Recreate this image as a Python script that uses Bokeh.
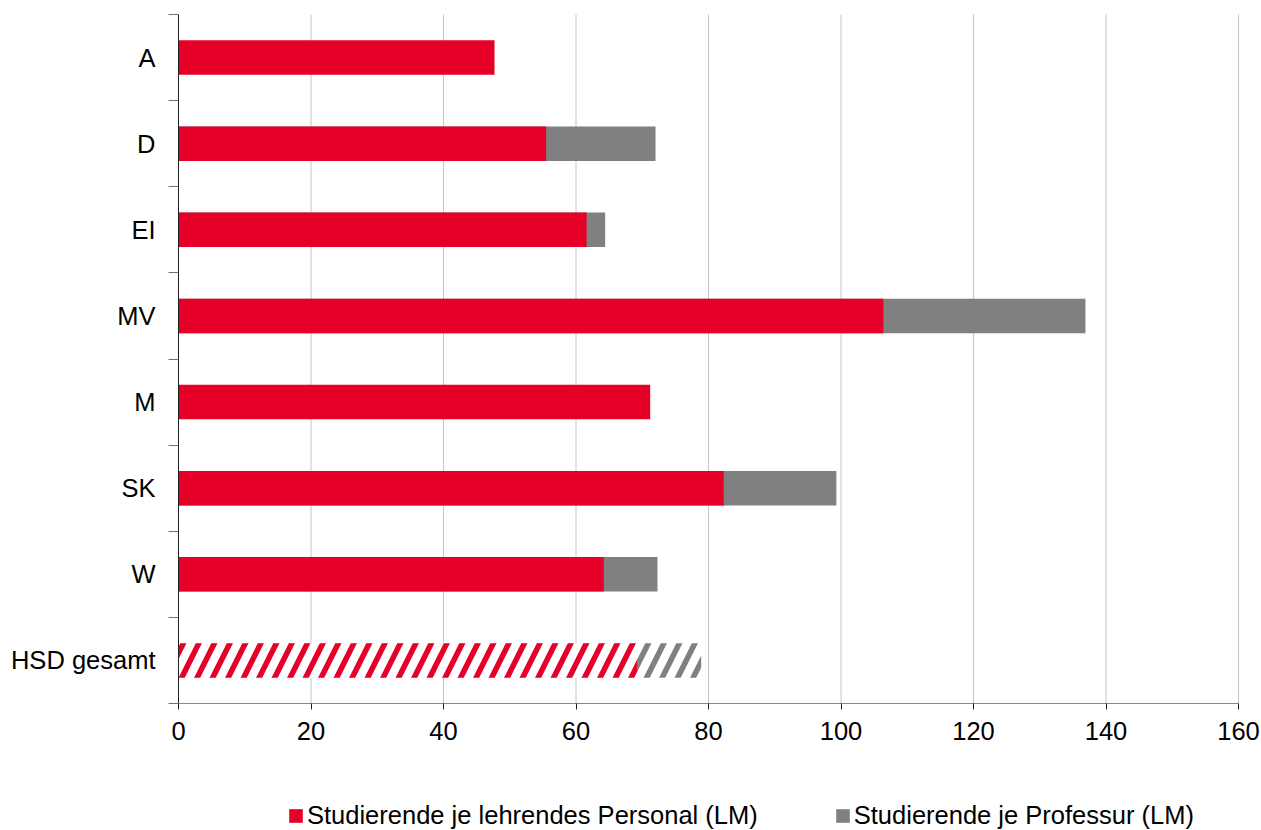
from bokeh.plotting import figure
from bokeh.models import FixedTicker, Legend, LegendItem, ColumnDataSource
from bokeh.embed import file_html
from bokeh.resources import INLINE
import numpy as np

categories = ["A", "D", "EI", "MV", "M", "SK", "W", "HSD gesamt"]
personal = [47.7, 55.5, 61.6, 106.4, 71.2, 82.3, 64.2, 69.3]
professur = [None, 72.0, 64.4, 136.9, None, 99.3, 72.3, 78.9]
x_ticks = [0, 20, 40, 60, 80, 100, 120, 140, 160]
series_names = ["Studierende je lehrendes Personal (LM)", "Studierende je Professur (LM)"]

RED = "#E60028"
GRAY = "#808080"
FONT = "Liberation Sans"
FS = "25.5px"

n = len(categories)
ypos = [n - 1 - i for i in range(n)]
prof = [np.nan if v is None else v for v in professur]

solid_idx = [i for i in range(n) if categories[i] != "HSD gesamt"]
hatch_idx = [i for i in range(n) if categories[i] == "HSD gesamt"]

# page layout in pixels: the whole figure is the frame; the plot area is a sub-rectangle
W, H = 1260, 830
PL, PR, PT, PB = 178, 1238, 14, 703          # plot-area edges in page pixels
X0, X1 = 0, 160
Y0, Y1 = -0.5, n - 0.5
xs = (X1 - X0) / (PR - PL)
ys = (Y1 - Y0) / (PB - PT)
x_range = (X0 - PL * xs, X1 + (W - PR) * xs)
y_range = (Y0 - (H - PB) * ys, Y1 + PT * ys)

def src(idx, vals):
    return ColumnDataSource(dict(y=[ypos[i] for i in idx], right=[vals[i] for i in idx]))

p = figure(frame_width=W, frame_height=H, output_backend="svg", toolbar_location=None,
           x_range=x_range, y_range=y_range,
           min_border_left=0, min_border_right=0, min_border_top=0, min_border_bottom=0)
p.outline_line_color = None
p.background_fill_color = "white"
p.border_fill_color = "white"
p.xgrid.grid_line_color = None
p.ygrid.grid_line_color = None

# vertical grid lines limited to the plot area
p.segment(x0=x_ticks, x1=x_ticks, y0=[Y0] * len(x_ticks), y1=[Y1] * len(x_ticks),
          line_color="#c6c6c6", line_width=1)

BH = 0.4
r_gray = p.hbar(y="y", right="right", left=0, height=BH, source=src(solid_idx, prof),
                fill_color=GRAY, line_color=None)
r_red = p.hbar(y="y", right="right", left=0, height=BH, source=src(solid_idx, personal),
               fill_color=RED, line_color=None)
p.hbar(y="y", right="right", left=0, height=BH, source=src(hatch_idx, prof),
       fill_color="white", line_color=None, hatch_pattern="/", hatch_color=GRAY,
       hatch_scale=31, hatch_weight=5.5)
p.hbar(y="y", right="right", left=0, height=BH, source=src(hatch_idx, personal),
       fill_color="white", line_color=None, hatch_pattern="/", hatch_color=RED,
       hatch_scale=31, hatch_weight=5.5)

# x axis at the bottom of the plot area
p.xaxis.fixed_location = Y0
p.xaxis.bounds = (X0, X1)
p.xaxis.ticker = FixedTicker(ticks=x_ticks)
p.xaxis.axis_line_color = "#888888"
p.xaxis.major_tick_line_color = "#202020"
p.xaxis.major_tick_out = 6
p.xaxis.major_tick_in = 0
p.xaxis.minor_tick_line_color = None
p.xaxis.major_label_standoff = 12
p.xaxis.major_label_text_font = FONT
p.xaxis.major_label_text_font_size = FS
p.xaxis.major_label_text_color = "#000000"

# y axis at x = 0
p.yaxis.fixed_location = X0
p.yaxis.bounds = (Y0, Y1)
p.yaxis.ticker = FixedTicker(ticks=ypos, minor_ticks=[k - 0.5 for k in range(n + 1)])
p.yaxis.major_label_overrides = {ypos[i]: categories[i] for i in range(n)}
p.yaxis.axis_line_color = "#202020"
p.yaxis.major_tick_line_color = None
p.yaxis.major_tick_out = 0
p.yaxis.major_tick_in = 0
p.yaxis.minor_tick_line_color = "#707070"
p.yaxis.minor_tick_out = 10
p.yaxis.minor_tick_in = 0
p.yaxis.major_label_standoff = 13
p.yaxis.major_label_text_font = FONT
p.yaxis.major_label_text_font_size = FS
p.yaxis.major_label_text_color = "#000000"

legend = Legend(items=[LegendItem(label=series_names[0], renderers=[r_red]),
                       LegendItem(label=series_names[1], renderers=[r_gray])],
                location=(287, 0), orientation="horizontal",
                padding=0, margin=0, spacing=76, label_standoff=3,
                glyph_width=17, glyph_height=17, label_height=26,
                label_text_font=FONT, label_text_font_size=FS,
                label_text_color="#000000",
                border_line_color=None, background_fill_alpha=0)
p.add_layout(legend, "center")

open("out.html", "w").write(file_html(p, INLINE))
